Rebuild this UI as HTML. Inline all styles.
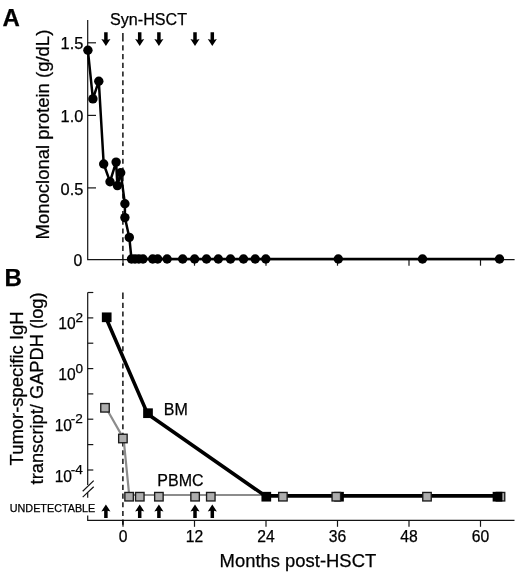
<!DOCTYPE html>
<html><head><meta charset="utf-8"><title>Figure</title>
<style>
html,body{margin:0;padding:0;background:#fff;}
svg{display:block;filter:blur(0.3px);}
text{font-family:"Liberation Sans",sans-serif;fill:#000;stroke:#000;stroke-width:0.25px;}
</style></head><body>
<svg width="520" height="572" viewBox="0 0 520 572">
<rect width="520" height="572" fill="#fff"/>

<text x="2.6" y="25.5" font-size="24" font-weight="bold">A</text>
<text x="110" y="25" font-size="16" textLength="77" lengthAdjust="spacingAndGlyphs">Syn-HSCT</text>
<g stroke="#151515" stroke-width="1.2" fill="none">
<path d="M87.7 20.1V259.6H514.6"/>
<path d="M87.7 42.8H96"/>
<path d="M87.7 115.4H96"/>
<path d="M87.7 187.9H96"/>
<path d="M123.0 259.6V265.7"/>
<path d="M194.5 259.6V265.7"/>
<path d="M266.0 259.6V265.7"/>
<path d="M337.5 259.6V265.7"/>
<path d="M409.0 259.6V265.7"/>
<path d="M480.5 259.6V265.7"/>
</g>
<path d="M122.9 33V41.4" stroke="#000" stroke-width="1.4" fill="none"/>
<path d="M122.9 45.3V265.5" stroke="#000" stroke-width="1.4" stroke-dasharray="5.15 3.57" fill="none"/>
<text x="83.4" y="49.0" font-size="15.6" text-anchor="end" textLength="22.8" lengthAdjust="spacingAndGlyphs">1.5</text>
<text x="83.4" y="122.0" font-size="15.6" text-anchor="end" textLength="22.8" lengthAdjust="spacingAndGlyphs">1.0</text>
<text x="83.4" y="194.5" font-size="15.6" text-anchor="end" textLength="22.8" lengthAdjust="spacingAndGlyphs">0.5</text>
<text x="82.2" y="265.6" font-size="15.8" text-anchor="end">0</text>
<text transform="translate(49.3 239.5) rotate(-90)" font-size="17.8" textLength="209.8" lengthAdjust="spacingAndGlyphs">Monoclonal protein (g/dL)</text>
<path d="M104.15 32.3H107.65V39.70L110.45 39.10L105.9 46.1L101.35 39.10L104.15 39.70Z" fill="#000"/>
<path d="M137.95 32.3H141.45V39.70L144.25 39.10L139.7 46.1L135.15 39.10L137.95 39.70Z" fill="#000"/>
<path d="M157.15 32.3H160.65V39.70L163.45 39.10L158.9 46.1L154.35 39.10L157.15 39.70Z" fill="#000"/>
<path d="M193.25 32.3H196.75V39.70L199.55 39.10L195 46.1L190.45 39.10L193.25 39.70Z" fill="#000"/>
<path d="M210.55 32.3H214.05V39.70L216.85 39.10L212.3 46.1L207.75 39.10L210.55 39.70Z" fill="#000"/>
<path d="M87.9 50.3 L92.9 98.9 L98.8 81.2 L103.7 164.0 L110 181.7 L116.1 162.1 L117.4 185.6 L120.7 172.7 L124.9 203.7 L124.9 217.6 L129.3 237.4 L131.5 259.0 L135 259.0 L138.8 259.0 L143 259.0 L152.7 259.0 L157.7 259.0 L167.1 259.0 L182.7 259.0 L194.6 259.0 L206.5 259.0 L218.3 259.0 L230.5 259.0 L243.5 259.0 L255.2 259.0 L265.8 259.0 L338.3 259.0 L422.5 259.0 L499.5 259.0" stroke="#000" stroke-width="2.5" fill="none" stroke-linejoin="round"/>
<circle cx="87.9" cy="50.3" r="4.7" fill="#000"/>
<circle cx="92.9" cy="98.9" r="4.7" fill="#000"/>
<circle cx="98.8" cy="81.2" r="4.7" fill="#000"/>
<circle cx="103.7" cy="164.0" r="4.7" fill="#000"/>
<circle cx="110" cy="181.7" r="4.7" fill="#000"/>
<circle cx="116.1" cy="162.1" r="4.7" fill="#000"/>
<circle cx="117.4" cy="185.6" r="4.7" fill="#000"/>
<circle cx="120.7" cy="172.7" r="4.7" fill="#000"/>
<circle cx="124.9" cy="203.7" r="4.7" fill="#000"/>
<circle cx="124.9" cy="217.6" r="4.7" fill="#000"/>
<circle cx="129.3" cy="237.4" r="4.7" fill="#000"/>
<circle cx="131.5" cy="259.0" r="4.7" fill="#000"/>
<circle cx="135" cy="259.0" r="4.7" fill="#000"/>
<circle cx="138.8" cy="259.0" r="4.7" fill="#000"/>
<circle cx="143" cy="259.0" r="4.7" fill="#000"/>
<circle cx="152.7" cy="259.0" r="4.7" fill="#000"/>
<circle cx="157.7" cy="259.0" r="4.7" fill="#000"/>
<circle cx="167.1" cy="259.0" r="4.7" fill="#000"/>
<circle cx="182.7" cy="259.0" r="4.7" fill="#000"/>
<circle cx="194.6" cy="259.0" r="4.7" fill="#000"/>
<circle cx="206.5" cy="259.0" r="4.7" fill="#000"/>
<circle cx="218.3" cy="259.0" r="4.7" fill="#000"/>
<circle cx="230.5" cy="259.0" r="4.7" fill="#000"/>
<circle cx="243.5" cy="259.0" r="4.7" fill="#000"/>
<circle cx="255.2" cy="259.0" r="4.7" fill="#000"/>
<circle cx="265.8" cy="259.0" r="4.7" fill="#000"/>
<circle cx="338.3" cy="259.0" r="4.7" fill="#000"/>
<circle cx="422.5" cy="259.0" r="4.7" fill="#000"/>
<circle cx="499.5" cy="259.0" r="4.7" fill="#000"/>
<text x="4.4" y="285.5" font-size="24" font-weight="bold">B</text>
<g stroke="#151515" stroke-width="1.2" fill="none">
<path d="M87.7 292.5V485M87.7 492.5V497.7"/>
<path d="M87.7 515.6V520.4H514.5"/>
<path d="M82.7 491.3L93.7 480.6M82.7 497.1L93.7 486.7"/>
<path d="M87.7 292.5H93.3"/>
<path d="M87.7 317.9H93.3"/>
<path d="M87.7 343.2H93.3"/>
<path d="M87.7 368.6H93.3"/>
<path d="M87.7 393.9H93.3"/>
<path d="M87.7 419.2H93.3"/>
<path d="M87.7 444.6H93.3"/>
<path d="M87.7 470.0H93.3"/>
<path d="M123.0 520.4V526.8"/>
<path d="M194.5 520.4V526.8"/>
<path d="M266.0 520.4V526.8"/>
<path d="M337.5 520.4V526.8"/>
<path d="M409.0 520.4V526.8"/>
<path d="M480.5 520.4V526.8"/>
</g>
<path d="M122.9 292.5V299.1" stroke="#000" stroke-width="1.4" fill="none"/>
<path d="M122.9 302.8V527.6" stroke="#000" stroke-width="1.4" stroke-dasharray="5.1 3.57" fill="none"/>
<text x="75.7" y="329.0" font-size="15.6" text-anchor="end">10</text>
<text x="75.4" y="322.1" font-size="13.6">2</text>
<text x="75.7" y="380.2" font-size="15.6" text-anchor="end">10</text>
<text x="75.4" y="372.8" font-size="13.6">0</text>
<text x="72.0" y="430.5" font-size="15.6" text-anchor="end">10</text>
<text x="70.8" y="422.8" font-size="13.6">-2</text>
<text x="72.0" y="481.8" font-size="15.6" text-anchor="end">10</text>
<text x="70.8" y="473.5" font-size="13.6">-4</text>
<text transform="translate(22.5 465.4) rotate(-90)" font-size="18" textLength="154" lengthAdjust="spacingAndGlyphs">Tumor-specific IgH</text>
<text transform="translate(43.1 484.4) rotate(-90)" font-size="18" textLength="192" lengthAdjust="spacingAndGlyphs">transcript/ GAPDH (log)</text>
<text x="9.8" y="511.8" font-size="10.5" textLength="85.5" lengthAdjust="spacingAndGlyphs">UNDETECTABLE</text>
<path d="M104.15 517.9H107.65V510.80L110.45 511.40L105.9 504.4L101.35 511.40L104.15 510.80Z" fill="#000"/>
<path d="M137.95 517.9H141.45V510.80L144.25 511.40L139.7 504.4L135.15 511.40L137.95 510.80Z" fill="#000"/>
<path d="M157.15 517.9H160.65V510.80L163.45 511.40L158.9 504.4L154.35 511.40L157.15 510.80Z" fill="#000"/>
<path d="M193.25 517.9H196.75V510.80L199.55 511.40L195 504.4L190.45 511.40L193.25 510.80Z" fill="#000"/>
<path d="M210.55 517.9H214.05V510.80L216.85 511.40L212.3 504.4L207.75 511.40L210.55 510.80Z" fill="#000"/>
<text x="123.0" y="542" font-size="15.7" text-anchor="middle">0</text>
<text x="194.5" y="542" font-size="15.7" text-anchor="middle">12</text>
<text x="266.0" y="542" font-size="15.7" text-anchor="middle">24</text>
<text x="337.5" y="542" font-size="15.7" text-anchor="middle">36</text>
<text x="409.0" y="542" font-size="15.7" text-anchor="middle">48</text>
<text x="480.5" y="542" font-size="15.7" text-anchor="middle">60</text>
<text x="219.6" y="566.9" font-size="18.4" textLength="156.6" lengthAdjust="spacingAndGlyphs">Months post-HSCT</text>
<text x="163.8" y="414.7" font-size="16">BM</text>
<text x="157.3" y="486.4" font-size="16">PBMC</text>
<path d="M106.0 407.8L123.6 438.6L129.3 496.2" stroke="#8c8c8c" stroke-width="2.2" fill="none" stroke-linejoin="round"/>
<path d="M128.6 495.0H500.5" stroke="#8c8c8c" stroke-width="1.8" fill="none"/>
<path d="M105.7 317.2L147.6 413.9L266.2 496.6" stroke="#000" stroke-width="3.6" fill="none" stroke-linejoin="round"/>
<path d="M264 495.8H497.5" stroke="#000" stroke-width="3.7" fill="none"/>
<rect x="496.25" y="492.45" width="8.5" height="8.5" fill="#adadad" stroke="#1c1c1c" stroke-width="1.35"/>
<rect x="334.15" y="491.85" width="9.7" height="9.7" fill="#000"/>
<rect x="101.85" y="312.45" width="9.7" height="9.7" fill="#000"/>
<rect x="143.15" y="408.35" width="9.7" height="9.7" fill="#000"/>
<rect x="261.45" y="491.85" width="9.7" height="9.7" fill="#000"/>
<rect x="492.65" y="491.85" width="9.7" height="9.7" fill="#000"/>
<rect x="100.75" y="403.55" width="8.5" height="8.5" fill="#adadad" stroke="#1c1c1c" stroke-width="1.35"/>
<rect x="118.65" y="434.25" width="8.5" height="8.5" fill="#adadad" stroke="#1c1c1c" stroke-width="1.35"/>
<rect x="124.85" y="492.45" width="8.5" height="8.5" fill="#adadad" stroke="#1c1c1c" stroke-width="1.35"/>
<rect x="135.55" y="492.45" width="8.5" height="8.5" fill="#adadad" stroke="#1c1c1c" stroke-width="1.35"/>
<rect x="154.65" y="492.45" width="8.5" height="8.5" fill="#adadad" stroke="#1c1c1c" stroke-width="1.35"/>
<rect x="190.85" y="492.45" width="8.5" height="8.5" fill="#adadad" stroke="#1c1c1c" stroke-width="1.35"/>
<rect x="206.55" y="492.45" width="8.5" height="8.5" fill="#adadad" stroke="#1c1c1c" stroke-width="1.35"/>
<rect x="278.65" y="492.45" width="8.5" height="8.5" fill="#adadad" stroke="#1c1c1c" stroke-width="1.35"/>
<rect x="332.05" y="492.45" width="8.5" height="8.5" fill="#adadad" stroke="#1c1c1c" stroke-width="1.35"/>
<rect x="422.75" y="492.45" width="8.5" height="8.5" fill="#adadad" stroke="#1c1c1c" stroke-width="1.35"/>
</svg></body></html>
